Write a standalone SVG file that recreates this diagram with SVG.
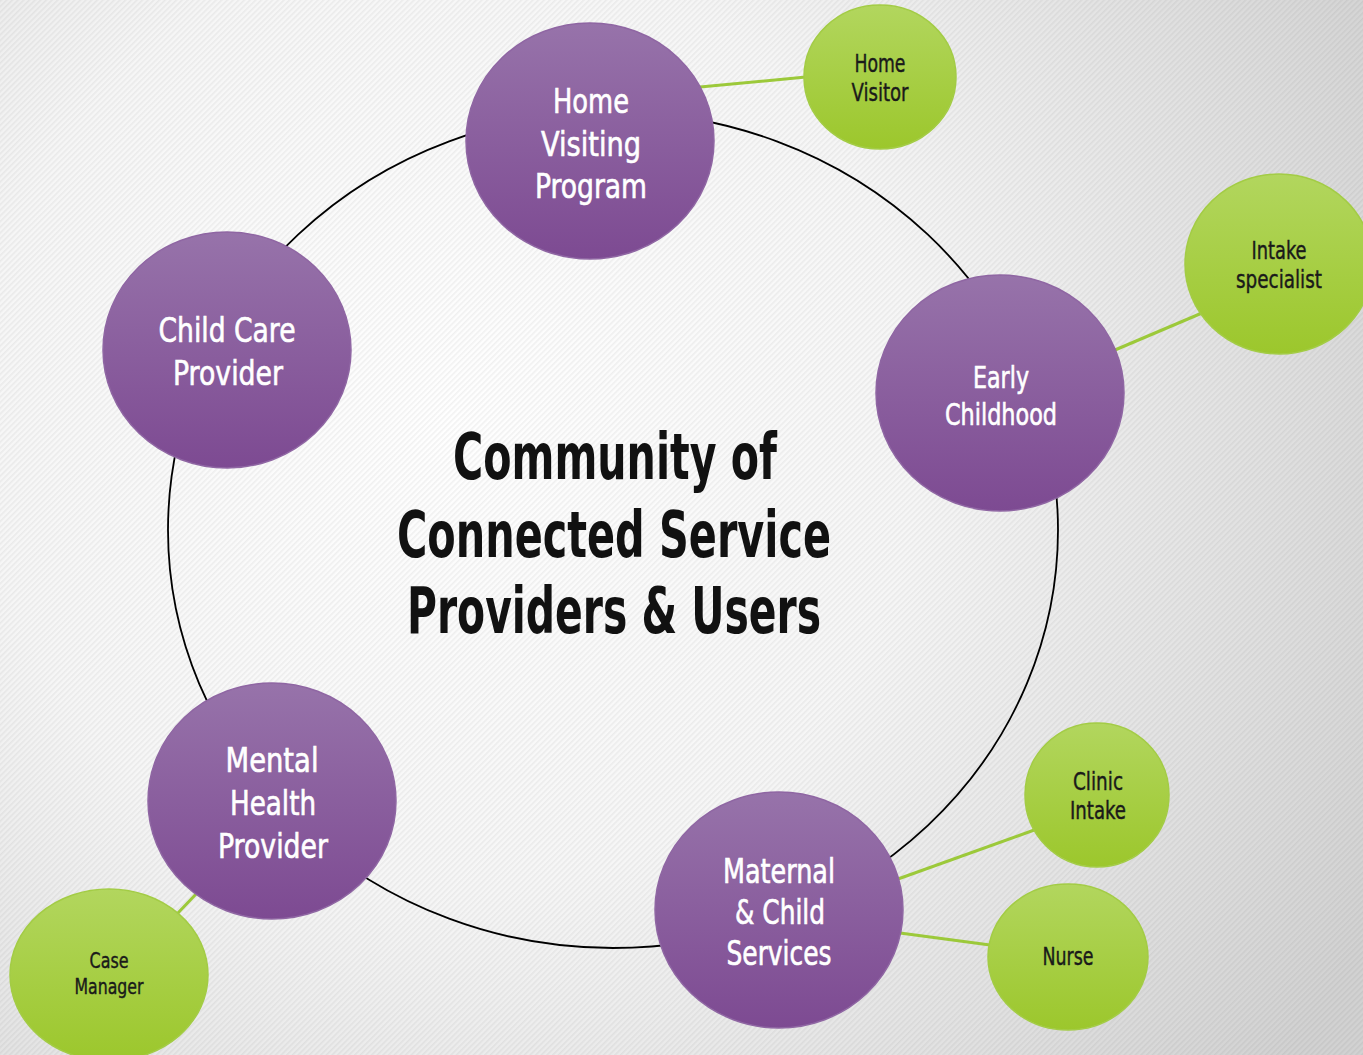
<svg xmlns="http://www.w3.org/2000/svg" width="1363" height="1055" viewBox="0 0 1363 1055">
<defs>
<radialGradient id="bg" cx="450" cy="420" r="1050" gradientUnits="userSpaceOnUse">
<stop offset="0" stop-color="#ffffff"/>
<stop offset="0.45" stop-color="#f6f6f6"/>
<stop offset="1" stop-color="#d2d2d2"/>
</radialGradient>
<pattern id="hatch" width="4" height="4" patternUnits="userSpaceOnUse" patternTransform="rotate(45)">
<rect x="0" y="0" width="1.6" height="4" fill="#000" fill-opacity="0.05"/>
</pattern>
<linearGradient id="purple" x1="0" y1="0" x2="0" y2="1">
<stop offset="0" stop-color="#9773aa"/>
<stop offset="1" stop-color="#7d4a92"/>
</linearGradient>
<linearGradient id="green" x1="0" y1="0" x2="0" y2="1">
<stop offset="0" stop-color="#b2d65e"/>
<stop offset="1" stop-color="#9cc72c"/>
</linearGradient>
<style>
.p{fill:url(#purple);stroke:#8f66a3;stroke-width:1.5}
.g{fill:url(#green);stroke:#a3cc45;stroke-width:1.5}
text{font-family:"Liberation Sans Narrow","DejaVu Sans Condensed","Liberation Sans",sans-serif;text-anchor:middle}
.pt{fill:#fff;stroke:#fff;stroke-width:0.6;font-size:34px}
.gt{fill:#1a1a1a;stroke:#1a1a1a;stroke-width:0.4;font-size:24px}
.ct{fill:#111;font-size:64px;font-weight:bold}
.gl{stroke:#9cc93a;stroke-width:3;fill:none}
</style>
</defs>
<rect width="1363" height="1055" fill="url(#bg)"/>
<rect width="1363" height="1055" fill="url(#hatch)"/>
<g id="connectors">
<ellipse cx="613" cy="530" rx="445" ry="418" fill="none" stroke="#000" stroke-width="1.8"/>
<line class="gl" x1="700" y1="87" x2="806" y2="77"/>
<line class="gl" x1="1115" y1="350" x2="1202" y2="313"/>
<line class="gl" x1="898" y1="879" x2="1037" y2="829"/>
<line class="gl" x1="900" y1="933" x2="990" y2="945"/>
<line class="gl" x1="198" y1="892" x2="176" y2="915"/>
</g>
<g id="title">
<text class="ct" x="615" y="479" textLength="324" lengthAdjust="spacingAndGlyphs">Community of</text>
<text class="ct" x="614" y="557" textLength="434" lengthAdjust="spacingAndGlyphs">Connected Service</text>
<text class="ct" x="614" y="633" textLength="414" lengthAdjust="spacingAndGlyphs">Providers &amp; Users</text>
</g>
<g id="home-visiting">
<ellipse class="p" cx="590" cy="141" rx="124" ry="118"/>
<text class="pt" x="591" y="113" textLength="76" lengthAdjust="spacingAndGlyphs">Home</text>
<text class="pt" x="591" y="156" textLength="100" lengthAdjust="spacingAndGlyphs">Visiting</text>
<text class="pt" x="591" y="198" textLength="112" lengthAdjust="spacingAndGlyphs">Program</text>
</g>
<g id="child-care">
<ellipse class="p" cx="227" cy="350" rx="124" ry="118"/>
<text class="pt" x="227" y="342" textLength="137" lengthAdjust="spacingAndGlyphs">Child Care</text>
<text class="pt" x="228" y="385" textLength="110" lengthAdjust="spacingAndGlyphs">Provider</text>
</g>
<g id="early-childhood">
<ellipse class="p" cx="1000" cy="393" rx="124" ry="118"/>
<text class="pt" x="1001" y="388" style="font-size:31px" textLength="56" lengthAdjust="spacingAndGlyphs">Early</text>
<text class="pt" x="1001" y="425" style="font-size:31px" textLength="112" lengthAdjust="spacingAndGlyphs">Childhood</text>
</g>
<g id="mental-health">
<ellipse class="p" cx="272" cy="801" rx="124" ry="118"/>
<text class="pt" x="272" y="772" textLength="93" lengthAdjust="spacingAndGlyphs">Mental</text>
<text class="pt" x="273" y="815" textLength="86" lengthAdjust="spacingAndGlyphs">Health</text>
<text class="pt" x="273" y="858" textLength="110" lengthAdjust="spacingAndGlyphs">Provider</text>
</g>
<g id="maternal-child">
<ellipse class="p" cx="779" cy="910" rx="124" ry="118"/>
<text class="pt" x="779" y="883" style="font-size:33px" textLength="112" lengthAdjust="spacingAndGlyphs">Maternal</text>
<text class="pt" x="780" y="924" style="font-size:33px" textLength="90" lengthAdjust="spacingAndGlyphs">&amp; Child</text>
<text class="pt" x="779" y="965" style="font-size:33px" textLength="105" lengthAdjust="spacingAndGlyphs">Services</text>
</g>
<g id="home-visitor">
<ellipse class="g" cx="880" cy="77" rx="76" ry="72"/>
<text class="gt" x="880" y="72" textLength="51" lengthAdjust="spacingAndGlyphs">Home</text>
<text class="gt" x="880" y="101" textLength="57" lengthAdjust="spacingAndGlyphs">Visitor</text>
</g>
<g id="intake-specialist">
<ellipse class="g" cx="1279" cy="264" rx="94" ry="90"/>
<text class="gt" x="1279" y="259" textLength="55" lengthAdjust="spacingAndGlyphs">Intake</text>
<text class="gt" x="1279" y="288" textLength="86" lengthAdjust="spacingAndGlyphs">specialist</text>
</g>
<g id="clinic-intake">
<ellipse class="g" cx="1097" cy="795" rx="72" ry="72"/>
<text class="gt" x="1098" y="790" textLength="50" lengthAdjust="spacingAndGlyphs">Clinic</text>
<text class="gt" x="1098" y="819" textLength="56" lengthAdjust="spacingAndGlyphs">Intake</text>
</g>
<g id="nurse">
<ellipse class="g" cx="1068" cy="957" rx="80" ry="73"/>
<text class="gt" x="1068" y="965" textLength="51" lengthAdjust="spacingAndGlyphs">Nurse</text>
</g>
<g id="case-manager">
<ellipse class="g" cx="109" cy="975" rx="99" ry="86"/>
<text class="gt" x="109" y="968" style="font-size:22px" textLength="39" lengthAdjust="spacingAndGlyphs">Case</text>
<text class="gt" x="109" y="994" style="font-size:22px" textLength="69" lengthAdjust="spacingAndGlyphs">Manager</text>
</g>
</svg>
